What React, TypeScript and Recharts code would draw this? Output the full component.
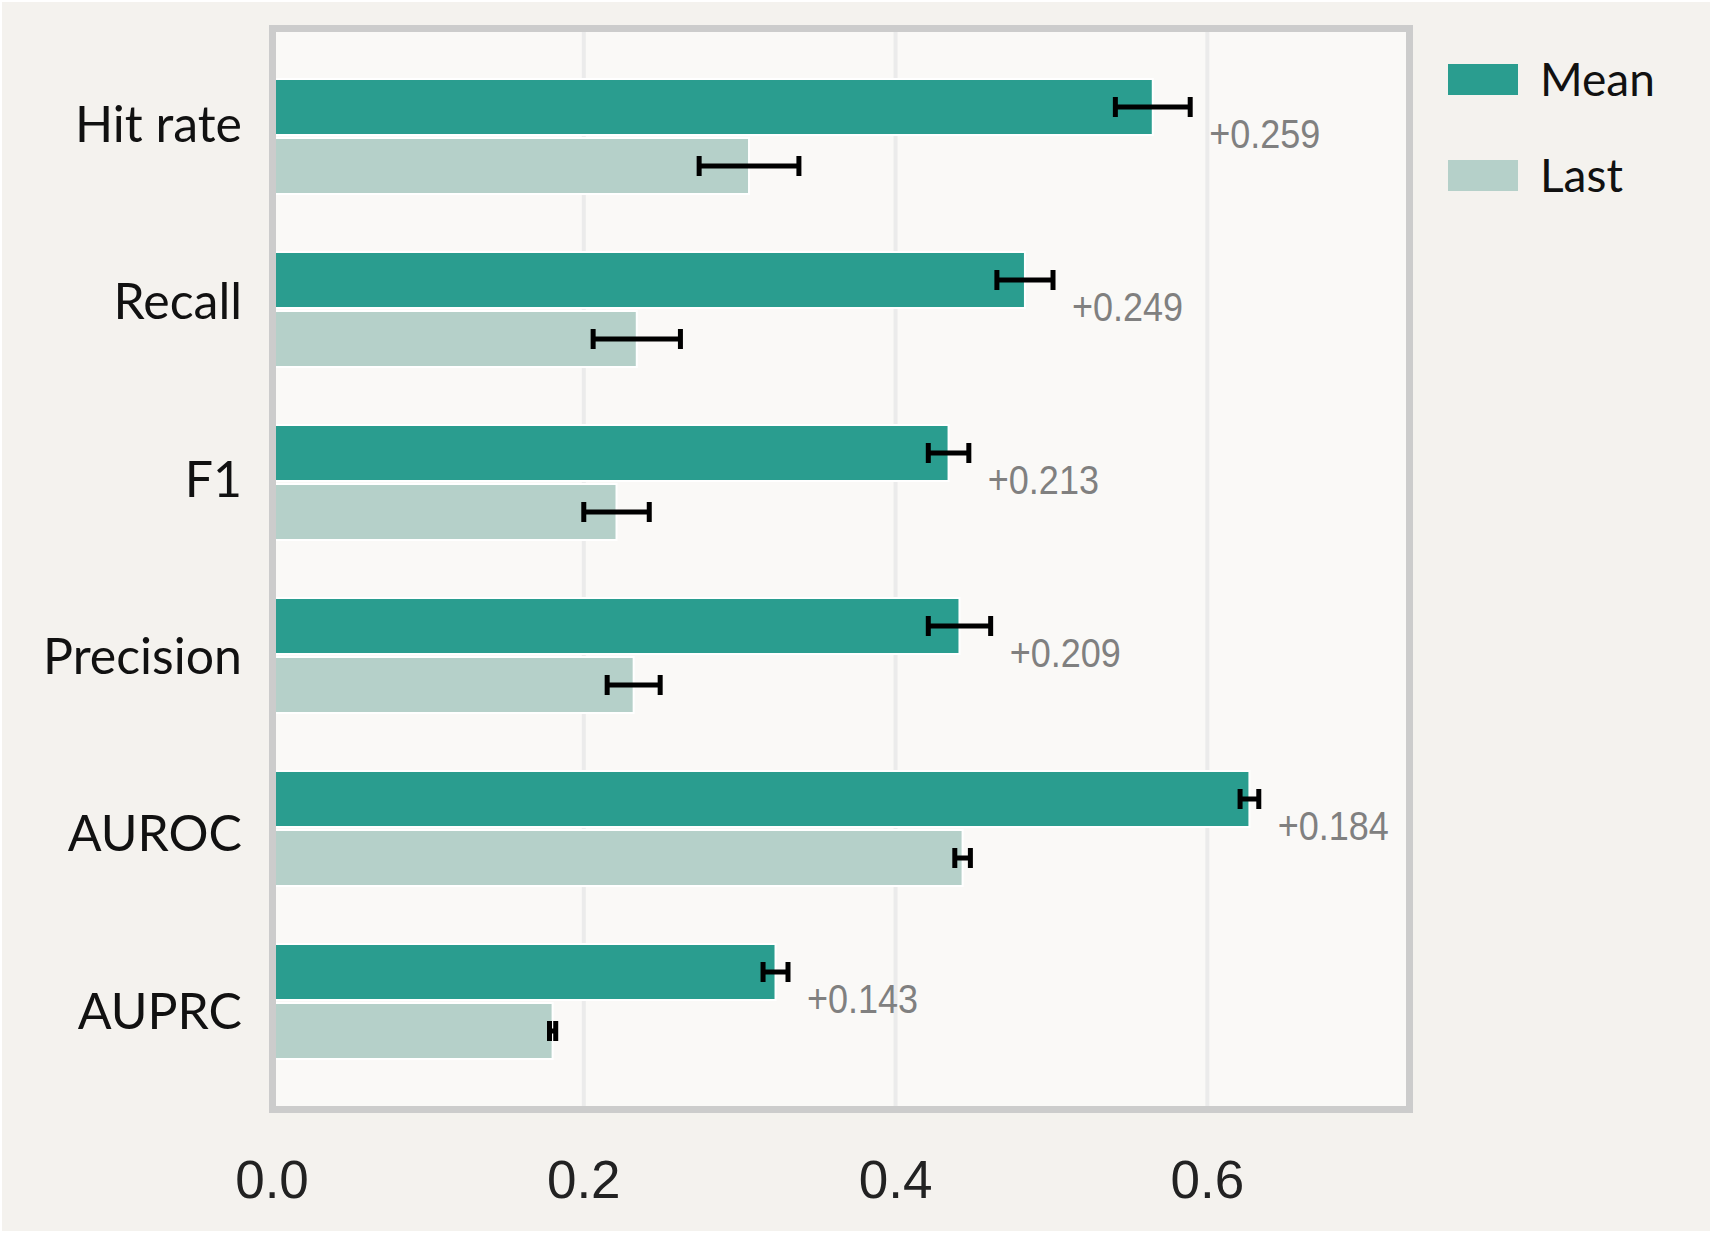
import {
  BarChart,
  Bar,
  XAxis,
  YAxis,
  CartesianGrid,
  ErrorBar,
  LabelList,
} from 'recharts';

const categories = ['Hit rate', 'Recall', 'F1', 'Precision', 'AUROC', 'AUPRC'];
const meanValues = [0.565, 0.483, 0.434, 0.441, 0.627, 0.323];
const lastValues = [0.306, 0.234, 0.221, 0.232, 0.443, 0.18];
const meanErr = [0.024, 0.018, 0.013, 0.02, 0.006, 0.008];
const lastErr = [0.032, 0.028, 0.021, 0.017, 0.005, 0.002];
const deltaLabels = ['+0.259', '+0.249', '+0.213', '+0.209', '+0.184', '+0.143'];
const xTicks = [0, 0.2, 0.4, 0.6];

const series = [
  { key: 'mean', name: 'Mean', color: '#2a9d8f' },
  { key: 'last', name: 'Last', color: '#b5d0c9' },
];

const data = categories.map((name, i) => ({
  name,
  mean: meanValues[i],
  last: lastValues[i],
  meanErr: meanErr[i],
  lastErr: lastErr[i],
  label: deltaLabels[i],
}));

// the category labels in the original drift slightly from the bar centres
const CategoryTick = ({ x, y, payload, index }: any) => (
  <text
    x={x}
    y={y + 5.5 + 4.3 * index}
    textAnchor="end"
    fontFamily="Lato"
    fontSize={50}
    fill="#111"
  >
    {payload.value}
  </text>
);

const DeltaLabel = ({ x, y, width, height, value, index }: any) => {
  const pxPerUnit = width / meanValues[index];
  const errEnd = x + width + meanErr[index] * pxPerUnit;
  return (
    <text
      transform={`translate(${errEnd + 19}, ${y + height + 13}) scale(0.9, 1)`}
      fontFamily="Liberation Sans"
      fontSize={40}
      fill="#808080"
    >
      {value}
    </text>
  );
};

function Legend() {
  return (
    <div style={{ position: 'absolute', left: 1448, top: 56 }}>
      {series.map((s) => (
        <div
          key={s.key}
          style={{ display: 'flex', alignItems: 'center', height: 46, marginBottom: 50 }}
        >
          <div style={{ width: 70, height: 31, background: s.color }} />
          <span
            style={{
              marginLeft: 22,
              fontFamily: 'Lato',
              fontSize: 46,
              lineHeight: 1,
              color: '#111',
            }}
          >
            {s.name}
          </span>
        </div>
      ))}
    </div>
  );
}

export default function App() {
  return (
    <div
      style={{
        position: 'absolute',
        left: 0,
        top: 0,
        width: 1712,
        height: 1233,
        background: '#ffffff',
      }}
    >
      <div
        style={{
          position: 'absolute',
          left: 2,
          top: 2,
          right: 2,
          bottom: 2,
          background: '#f4f2ee',
        }}
      />
      <div style={{ position: 'absolute', left: 0, top: 0 }}>
        <BarChart
          width={1712}
          height={1233}
          data={data}
          layout="vertical"
          margin={{ top: 28, right: 302, bottom: 0, left: 0 }}
          barSize={56}
          barGap={3}
        >
          <CartesianGrid
            horizontal={false}
            vertical
            stroke="#ebebeb"
            strokeWidth={4}
            fill="#faf9f7"
            fillOpacity={1}
          />
          <XAxis
            type="number"
            domain={[0, 0.73]}
            ticks={xTicks}
            allowDataOverflow
            tickFormatter={(v) => v.toFixed(1)}
            axisLine={false}
            tickLine={false}
            tickSize={0}
            tickMargin={50}
            height={123}
            tick={{ fontFamily: 'Liberation Sans', fontSize: 53, fill: '#222' }}
          />
          <YAxis
            type="category"
            dataKey="name"
            width={272}
            axisLine={false}
            tickLine={false}
            tickSize={0}
            tickMargin={30}
            padding={{ top: 22, bottom: 22 }}
            tick={<CategoryTick />}
            interval={0}
          />
          <Bar
            dataKey="mean"
            name="Mean"
            fill={series[0].color}
            stroke="#ffffff"
            strokeWidth={2}
            isAnimationActive={false}
          >
            <ErrorBar dataKey="meanErr" direction="x" width={10} stroke="#000" strokeWidth={5} />
            <LabelList dataKey="label" content={<DeltaLabel />} />
          </Bar>
          <Bar
            dataKey="last"
            name="Last"
            fill={series[1].color}
            stroke="#ffffff"
            strokeWidth={2}
            isAnimationActive={false}
          >
            <ErrorBar dataKey="lastErr" direction="x" width={10} stroke="#000" strokeWidth={5} />
          </Bar>
        </BarChart>
      </div>
      {/* axes frame (spines) drawn over the plot */}
      <div
        style={{
          position: 'absolute',
          left: 269,
          top: 25,
          width: 1144,
          height: 1088,
          boxSizing: 'border-box',
          border: '7px solid #cccccc',
          pointerEvents: 'none',
        }}
      />
      <Legend />
    </div>
  );
}
